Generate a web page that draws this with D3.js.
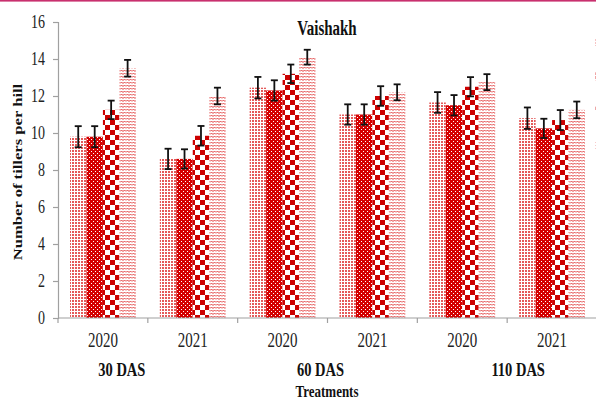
<!DOCTYPE html>
<html>
<head>
<meta charset="utf-8">
<script src="https://cdn.jsdelivr.net/npm/d3@7"></script>
<style>
  html, body { margin: 0; padding: 0; background: #fff; overflow: hidden; }
  text { font-family: "Liberation Serif", "Times New Roman", serif; }
</style>
</head>
<body>
<div id="chart"></div>
<script>
// categories
const stages = ['30 DAS', '60 DAS', '110 DAS'];
const groups = ['30-2020', '30-2021', '60-2020', '60-2021', '110-2020', '110-2021'];
const groupYears = ['2020', '2021', '2020', '2021', '2020', '2021'];
const seriesKeys = ['s1', 's2', 's3', 's4'];

// number of tillers per hill, one array per series (pattern)
const s1 = [9.8, 8.6, 12.45, 11.0, 11.65, 10.8];
const s2 = [9.8, 8.6, 12.3, 11.0, 11.5, 10.25];
const s3 = [11.25, 9.85, 13.2, 12.0, 12.5, 10.7];
const s4 = [13.5, 12.0, 14.1, 12.2, 12.75, 11.25];

// error bar half-lengths
const e1 = [0.57, 0.55, 0.58, 0.55, 0.56, 0.58];
const e2 = [0.57, 0.52, 0.55, 0.55, 0.55, 0.52];
const e3 = [0.5, 0.53, 0.5, 0.53, 0.52, 0.54];
const e4 = [0.45, 0.45, 0.4, 0.43, 0.43, 0.45];

const yTicks = [0, 2, 4, 6, 8, 10, 12, 14, 16];

const seriesValues = [s1, s2, s3, s4];
const seriesErrors = [e1, e2, e3, e4];

const width = 596, height = 399;
const stretch = 1.33; // text in the source picture is stretched vertically

const svg = d3.select('#chart').append('svg')
  .attr('width', width)
  .attr('height', height);

// top pink rule
svg.append('rect')
  .attr('x', 0).attr('y', 0)
  .attr('width', width).attr('height', 1.6)
  .attr('fill', '#c8306e');

// patterns
const defs = svg.append('defs');
const red = '#cc0000';

const p1 = defs.append('pattern').attr('id', 'pat-s1')
  .attr('patternUnits', 'userSpaceOnUse').attr('width', 3).attr('height', 3);
p1.append('rect').attr('width', 3).attr('height', 3).attr('fill', '#fff');
p1.append('rect').attr('width', 2).attr('height', 2).attr('fill', '#e45a5a');

const p2 = defs.append('pattern').attr('id', 'pat-s2')
  .attr('patternUnits', 'userSpaceOnUse').attr('width', 4).attr('height', 4);
p2.append('rect').attr('width', 4).attr('height', 4).attr('fill', '#d40000');
p2.append('rect').attr('x', 1).attr('y', 1).attr('width', 1).attr('height', 1).attr('fill', '#fff');
p2.append('rect').attr('x', 3).attr('y', 3).attr('width', 1).attr('height', 1).attr('fill', '#fff');

const p3 = defs.append('pattern').attr('id', 'pat-s3')
  .attr('patternUnits', 'userSpaceOnUse').attr('width', 10).attr('height', 10);
p3.append('rect').attr('width', 10).attr('height', 10).attr('fill', '#fff');
p3.append('rect').attr('x', 0).attr('y', 0).attr('width', 5).attr('height', 5).attr('fill', red);
p3.append('rect').attr('x', 5).attr('y', 5).attr('width', 5).attr('height', 5).attr('fill', red);

const p4 = defs.append('pattern').attr('id', 'pat-s4')
  .attr('patternUnits', 'userSpaceOnUse').attr('width', 6).attr('height', 6);
p4.append('rect').attr('width', 6).attr('height', 6).attr('fill', '#fff');
p4.append('path')
  .attr('d', 'M0,2.5 L1.5,1 L3,2.5 L4.5,1 L6,2.5 M0,5.5 L1.5,4 L3,5.5 L4.5,4 L6,5.5')
  .attr('fill', 'none')
  .attr('stroke', '#e03a3a')
  .attr('stroke-width', 1);

// scales
const x = d3.scaleBand().domain(groups).range([58, 597]).paddingInner(0).paddingOuter(0);
const xs = d3.scaleBand().domain(seriesKeys).range([12, x.bandwidth() - 12]).padding(0);
const y = d3.scaleLinear().domain([0, 16]).range([318, 22]);

// bars
const barData = [];
groups.forEach((g, gi) => {
  seriesKeys.forEach((k, si) => {
    barData.push({ group: g, key: k, value: seriesValues[si][gi], err: seriesErrors[si][gi] });
  });
});

const bars = svg.append('g');
bars.selectAll('rect')
  .data(barData)
  .enter()
  .append('rect')
  .attr('x', d => x(d.group) + xs(d.key))
  .attr('y', d => y(d.value))
  .attr('width', xs.bandwidth())
  .attr('height', d => y(0) - y(d.value))
  .attr('fill', d => `url(#pat-${d.key})`);

// error bars
const errG = svg.append('g')
  .attr('stroke', '#111')
  .attr('stroke-width', 1.8);
const cap = 3.5;
barData.forEach(d => {
  const cx = x(d.group) + xs(d.key) + xs.bandwidth() / 2;
  const top = y(d.value + d.err);
  const bot = y(d.value - d.err);
  errG.append('line').attr('x1', cx).attr('x2', cx).attr('y1', top).attr('y2', bot);
  errG.append('line').attr('x1', cx - cap).attr('x2', cx + cap).attr('y1', top).attr('y2', top);
  errG.append('line').attr('x1', cx - cap).attr('x2', cx + cap).attr('y1', bot).attr('y2', bot);
});

// y axis
const yAxis = svg.append('g')
  .attr('transform', 'translate(58,0)')
  .call(d3.axisLeft(y).tickValues(yTicks).tickSize(5).tickPadding(8).tickFormat(d3.format('d')));
yAxis.select('.domain').attr('stroke', '#a0a0a0').attr('stroke-width', 1.2);
yAxis.selectAll('.tick line').attr('stroke', '#a0a0a0').attr('stroke-width', 1.2);
yAxis.selectAll('.tick text')
  .attr('fill', '#222')
  .style('font-size', '14px')
  .attr('dy', '0.3em')
  .attr('transform', `scale(1,${stretch})`);

// x axis line and ticks at category boundaries
const xAxisG = svg.append('g').attr('stroke', '#a0a0a0').attr('stroke-width', 1.2);
xAxisG.append('line')
  .attr('x1', x.range()[0]).attr('x2', x.range()[1])
  .attr('y1', y(0)).attr('y2', y(0));
groups.forEach(g => {
  xAxisG.append('line')
    .attr('x1', x(g)).attr('x2', x(g))
    .attr('y1', y(0)).attr('y2', y(0) + 5);
});

// year labels
svg.append('g').selectAll('text')
  .data(groups)
  .enter()
  .append('text')
  .attr('transform', d => `translate(${x(d) + x.bandwidth() / 2},347) scale(1,${stretch})`)
  .attr('text-anchor', 'middle')
  .style('font-size', '15px')
  .attr('fill', '#222')
  .text((d, i) => groupYears[i]);

// stage labels (30 / 60 / 110 DAS) placed near the boundary of each year pair
const stageShift = [-26, -7, 11];
svg.append('g').selectAll('text')
  .data(stages)
  .enter()
  .append('text')
  .attr('transform', (d, i) => `translate(${x(groups[i * 2 + 1]) + stageShift[i]},376) scale(1,${stretch})`)
  .attr('text-anchor', 'middle')
  .style('font-size', '14.5px')
  .style('font-weight', 'bold')
  .attr('fill', '#111')
  .text(d => d);

// axis titles
svg.append('text')
  .attr('transform', `translate(327,397) scale(1,${stretch})`)
  .attr('text-anchor', 'middle')
  .style('font-size', '13px')
  .style('font-weight', 'bold')
  .attr('fill', '#111')
  .text('Treatments');

svg.append('text')
  .attr('transform', `translate(22,172) rotate(-90) scale(${stretch},1)`)
  .attr('text-anchor', 'middle')
  .style('font-size', '12.5px')
  .style('font-weight', 'bold')
  .attr('fill', '#111')
  .text('Number of tillers per hill');

// chart title
svg.append('text')
  .attr('transform', `translate(327,35) scale(1,${stretch})`)
  .attr('text-anchor', 'middle')
  .style('font-size', '15px')
  .style('font-weight', 'bold')
  .attr('fill', '#111')
  .text('Vaishakh');

// legend swatches, mostly cut off by the right edge
const legendY = d3.scalePoint().domain(seriesKeys).range([38, 141]);
svg.append('g').selectAll('rect')
  .data(seriesKeys)
  .enter()
  .append('rect')
  .attr('x', 595)
  .attr('y', d => legendY(d))
  .attr('width', 10)
  .attr('height', 8)
  .attr('fill', d => `url(#pat-${d})`)
  .attr('opacity', 0.35);
</script>
</body>
</html>
